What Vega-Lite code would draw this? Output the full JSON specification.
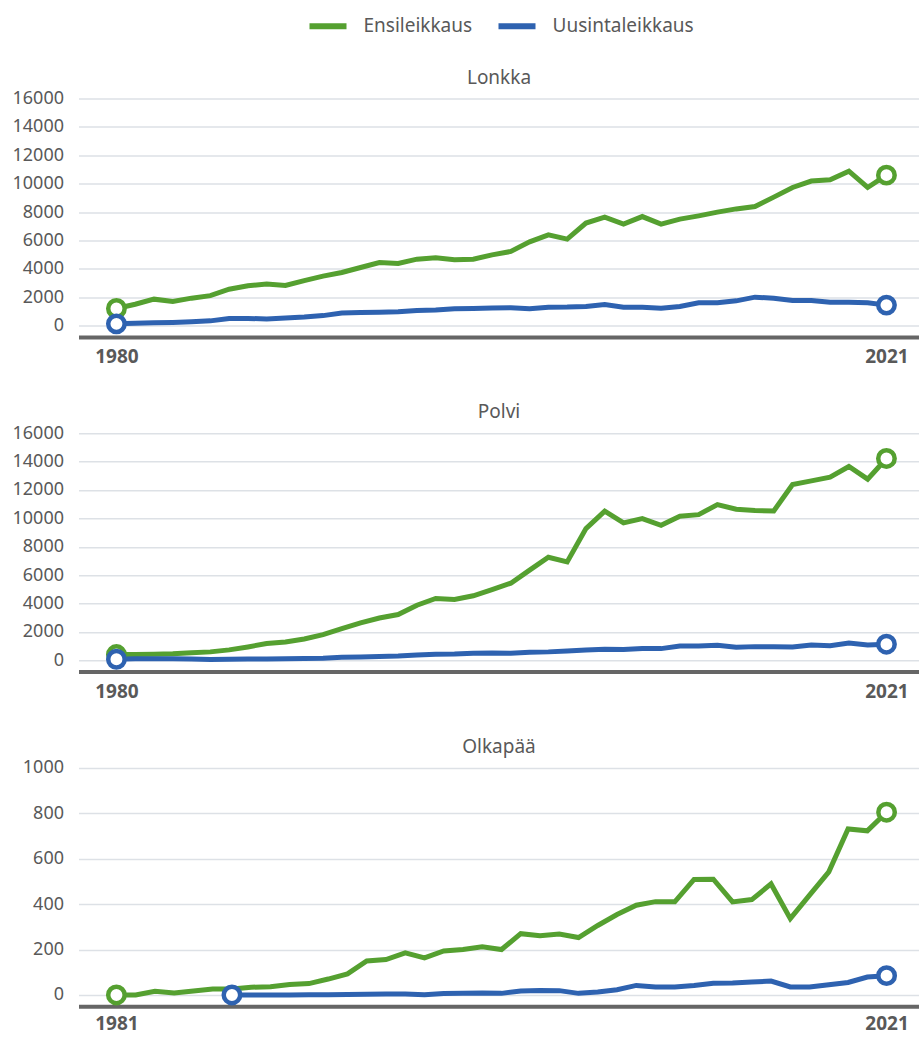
{
  "$schema": "https://vega.github.io/schema/vega-lite/v6.json",
  "padding": {"left": 11.5, "top": 4.5, "right": 0, "bottom": 3},
  "bounds": "flush",
  "spacing": 95.7,
  "datasets": {
    "rows": [
      {"panel":"Lonkka","series":"Ensileikkaus","year":1980,"value":1200},{"panel":"Lonkka","series":"Ensileikkaus","year":1981,"value":1500},{"panel":"Lonkka","series":"Ensileikkaus","year":1982,"value":1860},{"panel":"Lonkka","series":"Ensileikkaus","year":1983,"value":1690},{"panel":"Lonkka","series":"Ensileikkaus","year":1984,"value":1930},{"panel":"Lonkka","series":"Ensileikkaus","year":1985,"value":2110},{"panel":"Lonkka","series":"Ensileikkaus","year":1986,"value":2560},{"panel":"Lonkka","series":"Ensileikkaus","year":1987,"value":2800},{"panel":"Lonkka","series":"Ensileikkaus","year":1988,"value":2920},{"panel":"Lonkka","series":"Ensileikkaus","year":1989,"value":2820},{"panel":"Lonkka","series":"Ensileikkaus","year":1990,"value":3170},{"panel":"Lonkka","series":"Ensileikkaus","year":1991,"value":3480},{"panel":"Lonkka","series":"Ensileikkaus","year":1992,"value":3740},{"panel":"Lonkka","series":"Ensileikkaus","year":1993,"value":4090},{"panel":"Lonkka","series":"Ensileikkaus","year":1994,"value":4440},{"panel":"Lonkka","series":"Ensileikkaus","year":1995,"value":4370},{"panel":"Lonkka","series":"Ensileikkaus","year":1996,"value":4680},{"panel":"Lonkka","series":"Ensileikkaus","year":1997,"value":4770},{"panel":"Lonkka","series":"Ensileikkaus","year":1998,"value":4630},{"panel":"Lonkka","series":"Ensileikkaus","year":1999,"value":4680},{"panel":"Lonkka","series":"Ensileikkaus","year":2000,"value":4980},{"panel":"Lonkka","series":"Ensileikkaus","year":2001,"value":5220},{"panel":"Lonkka","series":"Ensileikkaus","year":2002,"value":5900},{"panel":"Lonkka","series":"Ensileikkaus","year":2003,"value":6390},{"panel":"Lonkka","series":"Ensileikkaus","year":2004,"value":6090},{"panel":"Lonkka","series":"Ensileikkaus","year":2005,"value":7220},{"panel":"Lonkka","series":"Ensileikkaus","year":2006,"value":7640},{"panel":"Lonkka","series":"Ensileikkaus","year":2007,"value":7150},{"panel":"Lonkka","series":"Ensileikkaus","year":2008,"value":7680},{"panel":"Lonkka","series":"Ensileikkaus","year":2009,"value":7150},{"panel":"Lonkka","series":"Ensileikkaus","year":2010,"value":7500},{"panel":"Lonkka","series":"Ensileikkaus","year":2011,"value":7730},{"panel":"Lonkka","series":"Ensileikkaus","year":2012,"value":7990},{"panel":"Lonkka","series":"Ensileikkaus","year":2013,"value":8220},{"panel":"Lonkka","series":"Ensileikkaus","year":2014,"value":8390},{"panel":"Lonkka","series":"Ensileikkaus","year":2015,"value":9050},{"panel":"Lonkka","series":"Ensileikkaus","year":2016,"value":9730},{"panel":"Lonkka","series":"Ensileikkaus","year":2017,"value":10180},{"panel":"Lonkka","series":"Ensileikkaus","year":2018,"value":10270},{"panel":"Lonkka","series":"Ensileikkaus","year":2019,"value":10880},{"panel":"Lonkka","series":"Ensileikkaus","year":2020,"value":9730},{"panel":"Lonkka","series":"Ensileikkaus","year":2021,"value":10600},
      {"panel":"Lonkka","series":"Uusintaleikkaus","year":1980,"value":120},{"panel":"Lonkka","series":"Uusintaleikkaus","year":1981,"value":170},{"panel":"Lonkka","series":"Uusintaleikkaus","year":1982,"value":190},{"panel":"Lonkka","series":"Uusintaleikkaus","year":1983,"value":220},{"panel":"Lonkka","series":"Uusintaleikkaus","year":1984,"value":270},{"panel":"Lonkka","series":"Uusintaleikkaus","year":1985,"value":330},{"panel":"Lonkka","series":"Uusintaleikkaus","year":1986,"value":500},{"panel":"Lonkka","series":"Uusintaleikkaus","year":1987,"value":500},{"panel":"Lonkka","series":"Uusintaleikkaus","year":1988,"value":470},{"panel":"Lonkka","series":"Uusintaleikkaus","year":1989,"value":530},{"panel":"Lonkka","series":"Uusintaleikkaus","year":1990,"value":600},{"panel":"Lonkka","series":"Uusintaleikkaus","year":1991,"value":700},{"panel":"Lonkka","series":"Uusintaleikkaus","year":1992,"value":880},{"panel":"Lonkka","series":"Uusintaleikkaus","year":1993,"value":920},{"panel":"Lonkka","series":"Uusintaleikkaus","year":1994,"value":940},{"panel":"Lonkka","series":"Uusintaleikkaus","year":1995,"value":980},{"panel":"Lonkka","series":"Uusintaleikkaus","year":1996,"value":1060},{"panel":"Lonkka","series":"Uusintaleikkaus","year":1997,"value":1100},{"panel":"Lonkka","series":"Uusintaleikkaus","year":1998,"value":1180},{"panel":"Lonkka","series":"Uusintaleikkaus","year":1999,"value":1200},{"panel":"Lonkka","series":"Uusintaleikkaus","year":2000,"value":1230},{"panel":"Lonkka","series":"Uusintaleikkaus","year":2001,"value":1250},{"panel":"Lonkka","series":"Uusintaleikkaus","year":2002,"value":1180},{"panel":"Lonkka","series":"Uusintaleikkaus","year":2003,"value":1290},{"panel":"Lonkka","series":"Uusintaleikkaus","year":2004,"value":1300},{"panel":"Lonkka","series":"Uusintaleikkaus","year":2005,"value":1340},{"panel":"Lonkka","series":"Uusintaleikkaus","year":2006,"value":1480},{"panel":"Lonkka","series":"Uusintaleikkaus","year":2007,"value":1290},{"panel":"Lonkka","series":"Uusintaleikkaus","year":2008,"value":1290},{"panel":"Lonkka","series":"Uusintaleikkaus","year":2009,"value":1220},{"panel":"Lonkka","series":"Uusintaleikkaus","year":2010,"value":1340},{"panel":"Lonkka","series":"Uusintaleikkaus","year":2011,"value":1600},{"panel":"Lonkka","series":"Uusintaleikkaus","year":2012,"value":1600},{"panel":"Lonkka","series":"Uusintaleikkaus","year":2013,"value":1740},{"panel":"Lonkka","series":"Uusintaleikkaus","year":2014,"value":2000},{"panel":"Lonkka","series":"Uusintaleikkaus","year":2015,"value":1930},{"panel":"Lonkka","series":"Uusintaleikkaus","year":2016,"value":1760},{"panel":"Lonkka","series":"Uusintaleikkaus","year":2017,"value":1760},{"panel":"Lonkka","series":"Uusintaleikkaus","year":2018,"value":1640},{"panel":"Lonkka","series":"Uusintaleikkaus","year":2019,"value":1640},{"panel":"Lonkka","series":"Uusintaleikkaus","year":2020,"value":1600},{"panel":"Lonkka","series":"Uusintaleikkaus","year":2021,"value":1440},
      {"panel":"Polvi","series":"Ensileikkaus","year":1980,"value":400},{"panel":"Polvi","series":"Ensileikkaus","year":1981,"value":400},{"panel":"Polvi","series":"Ensileikkaus","year":1982,"value":420},{"panel":"Polvi","series":"Ensileikkaus","year":1983,"value":450},{"panel":"Polvi","series":"Ensileikkaus","year":1984,"value":520},{"panel":"Polvi","series":"Ensileikkaus","year":1985,"value":590},{"panel":"Polvi","series":"Ensileikkaus","year":1986,"value":730},{"panel":"Polvi","series":"Ensileikkaus","year":1987,"value":940},{"panel":"Polvi","series":"Ensileikkaus","year":1988,"value":1180},{"panel":"Polvi","series":"Ensileikkaus","year":1989,"value":1290},{"panel":"Polvi","series":"Ensileikkaus","year":1990,"value":1500},{"panel":"Polvi","series":"Ensileikkaus","year":1991,"value":1810},{"panel":"Polvi","series":"Ensileikkaus","year":1992,"value":2230},{"panel":"Polvi","series":"Ensileikkaus","year":1993,"value":2630},{"panel":"Polvi","series":"Ensileikkaus","year":1994,"value":2980},{"panel":"Polvi","series":"Ensileikkaus","year":1995,"value":3220},{"panel":"Polvi","series":"Ensileikkaus","year":1996,"value":3880},{"panel":"Polvi","series":"Ensileikkaus","year":1997,"value":4350},{"panel":"Polvi","series":"Ensileikkaus","year":1998,"value":4280},{"panel":"Polvi","series":"Ensileikkaus","year":1999,"value":4540},{"panel":"Polvi","series":"Ensileikkaus","year":2000,"value":4980},{"panel":"Polvi","series":"Ensileikkaus","year":2001,"value":5430},{"panel":"Polvi","series":"Ensileikkaus","year":2002,"value":6350},{"panel":"Polvi","series":"Ensileikkaus","year":2003,"value":7260},{"panel":"Polvi","series":"Ensileikkaus","year":2004,"value":6930},{"panel":"Polvi","series":"Ensileikkaus","year":2005,"value":9280},{"panel":"Polvi","series":"Ensileikkaus","year":2006,"value":10500},{"panel":"Polvi","series":"Ensileikkaus","year":2007,"value":9680},{"panel":"Polvi","series":"Ensileikkaus","year":2008,"value":9980},{"panel":"Polvi","series":"Ensileikkaus","year":2009,"value":9510},{"panel":"Polvi","series":"Ensileikkaus","year":2010,"value":10150},{"panel":"Polvi","series":"Ensileikkaus","year":2011,"value":10260},{"panel":"Polvi","series":"Ensileikkaus","year":2012,"value":10970},{"panel":"Polvi","series":"Ensileikkaus","year":2013,"value":10640},{"panel":"Polvi","series":"Ensileikkaus","year":2014,"value":10550},{"panel":"Polvi","series":"Ensileikkaus","year":2015,"value":10520},{"panel":"Polvi","series":"Ensileikkaus","year":2016,"value":12380},{"panel":"Polvi","series":"Ensileikkaus","year":2017,"value":12640},{"panel":"Polvi","series":"Ensileikkaus","year":2018,"value":12900},{"panel":"Polvi","series":"Ensileikkaus","year":2019,"value":13650},{"panel":"Polvi","series":"Ensileikkaus","year":2020,"value":12760},{"panel":"Polvi","series":"Ensileikkaus","year":2021,"value":14220},
      {"panel":"Polvi","series":"Uusintaleikkaus","year":1980,"value":70},{"panel":"Polvi","series":"Uusintaleikkaus","year":1981,"value":100},{"panel":"Polvi","series":"Uusintaleikkaus","year":1982,"value":100},{"panel":"Polvi","series":"Uusintaleikkaus","year":1983,"value":100},{"panel":"Polvi","series":"Uusintaleikkaus","year":1984,"value":90},{"panel":"Polvi","series":"Uusintaleikkaus","year":1985,"value":60},{"panel":"Polvi","series":"Uusintaleikkaus","year":1986,"value":70},{"panel":"Polvi","series":"Uusintaleikkaus","year":1987,"value":80},{"panel":"Polvi","series":"Uusintaleikkaus","year":1988,"value":80},{"panel":"Polvi","series":"Uusintaleikkaus","year":1989,"value":100},{"panel":"Polvi","series":"Uusintaleikkaus","year":1990,"value":120},{"panel":"Polvi","series":"Uusintaleikkaus","year":1991,"value":140},{"panel":"Polvi","series":"Uusintaleikkaus","year":1992,"value":210},{"panel":"Polvi","series":"Uusintaleikkaus","year":1993,"value":235},{"panel":"Polvi","series":"Uusintaleikkaus","year":1994,"value":260},{"panel":"Polvi","series":"Uusintaleikkaus","year":1995,"value":300},{"panel":"Polvi","series":"Uusintaleikkaus","year":1996,"value":370},{"panel":"Polvi","series":"Uusintaleikkaus","year":1997,"value":420},{"panel":"Polvi","series":"Uusintaleikkaus","year":1998,"value":440},{"panel":"Polvi","series":"Uusintaleikkaus","year":1999,"value":490},{"panel":"Polvi","series":"Uusintaleikkaus","year":2000,"value":510},{"panel":"Polvi","series":"Uusintaleikkaus","year":2001,"value":490},{"panel":"Polvi","series":"Uusintaleikkaus","year":2002,"value":560},{"panel":"Polvi","series":"Uusintaleikkaus","year":2003,"value":590},{"panel":"Polvi","series":"Uusintaleikkaus","year":2004,"value":660},{"panel":"Polvi","series":"Uusintaleikkaus","year":2005,"value":730},{"panel":"Polvi","series":"Uusintaleikkaus","year":2006,"value":780},{"panel":"Polvi","series":"Uusintaleikkaus","year":2007,"value":750},{"panel":"Polvi","series":"Uusintaleikkaus","year":2008,"value":820},{"panel":"Polvi","series":"Uusintaleikkaus","year":2009,"value":820},{"panel":"Polvi","series":"Uusintaleikkaus","year":2010,"value":1010},{"panel":"Polvi","series":"Uusintaleikkaus","year":2011,"value":1010},{"panel":"Polvi","series":"Uusintaleikkaus","year":2012,"value":1060},{"panel":"Polvi","series":"Uusintaleikkaus","year":2013,"value":920},{"panel":"Polvi","series":"Uusintaleikkaus","year":2014,"value":960},{"panel":"Polvi","series":"Uusintaleikkaus","year":2015,"value":960},{"panel":"Polvi","series":"Uusintaleikkaus","year":2016,"value":940},{"panel":"Polvi","series":"Uusintaleikkaus","year":2017,"value":1080},{"panel":"Polvi","series":"Uusintaleikkaus","year":2018,"value":1030},{"panel":"Polvi","series":"Uusintaleikkaus","year":2019,"value":1220},{"panel":"Polvi","series":"Uusintaleikkaus","year":2020,"value":1080},{"panel":"Polvi","series":"Uusintaleikkaus","year":2021,"value":1130},
      {"panel":"Olkapää","series":"Ensileikkaus","year":1981,"value":0},{"panel":"Olkapää","series":"Ensileikkaus","year":1982,"value":0},{"panel":"Olkapää","series":"Ensileikkaus","year":1983,"value":16},{"panel":"Olkapää","series":"Ensileikkaus","year":1984,"value":9},{"panel":"Olkapää","series":"Ensileikkaus","year":1985,"value":17},{"panel":"Olkapää","series":"Ensileikkaus","year":1986,"value":26},{"panel":"Olkapää","series":"Ensileikkaus","year":1987,"value":26},{"panel":"Olkapää","series":"Ensileikkaus","year":1988,"value":34},{"panel":"Olkapää","series":"Ensileikkaus","year":1989,"value":36},{"panel":"Olkapää","series":"Ensileikkaus","year":1990,"value":46},{"panel":"Olkapää","series":"Ensileikkaus","year":1991,"value":50},{"panel":"Olkapää","series":"Ensileikkaus","year":1992,"value":70},{"panel":"Olkapää","series":"Ensileikkaus","year":1993,"value":93},{"panel":"Olkapää","series":"Ensileikkaus","year":1994,"value":150},{"panel":"Olkapää","series":"Ensileikkaus","year":1995,"value":156},{"panel":"Olkapää","series":"Ensileikkaus","year":1996,"value":185},{"panel":"Olkapää","series":"Ensileikkaus","year":1997,"value":163},{"panel":"Olkapää","series":"Ensileikkaus","year":1998,"value":194},{"panel":"Olkapää","series":"Ensileikkaus","year":1999,"value":200},{"panel":"Olkapää","series":"Ensileikkaus","year":2000,"value":212},{"panel":"Olkapää","series":"Ensileikkaus","year":2001,"value":200},{"panel":"Olkapää","series":"Ensileikkaus","year":2002,"value":270},{"panel":"Olkapää","series":"Ensileikkaus","year":2003,"value":261},{"panel":"Olkapää","series":"Ensileikkaus","year":2004,"value":268},{"panel":"Olkapää","series":"Ensileikkaus","year":2005,"value":253},{"panel":"Olkapää","series":"Ensileikkaus","year":2006,"value":306},{"panel":"Olkapää","series":"Ensileikkaus","year":2007,"value":354},{"panel":"Olkapää","series":"Ensileikkaus","year":2008,"value":395},{"panel":"Olkapää","series":"Ensileikkaus","year":2009,"value":411},{"panel":"Olkapää","series":"Ensileikkaus","year":2010,"value":410},{"panel":"Olkapää","series":"Ensileikkaus","year":2011,"value":509},{"panel":"Olkapää","series":"Ensileikkaus","year":2012,"value":510},{"panel":"Olkapää","series":"Ensileikkaus","year":2013,"value":410},{"panel":"Olkapää","series":"Ensileikkaus","year":2014,"value":420},{"panel":"Olkapää","series":"Ensileikkaus","year":2015,"value":489},{"panel":"Olkapää","series":"Ensileikkaus","year":2016,"value":336},{"panel":"Olkapää","series":"Ensileikkaus","year":2017,"value":440},{"panel":"Olkapää","series":"Ensileikkaus","year":2018,"value":542},{"panel":"Olkapää","series":"Ensileikkaus","year":2019,"value":731},{"panel":"Olkapää","series":"Ensileikkaus","year":2020,"value":723},{"panel":"Olkapää","series":"Ensileikkaus","year":2021,"value":805},
      {"panel":"Olkapää","series":"Uusintaleikkaus","year":1987,"value":0},{"panel":"Olkapää","series":"Uusintaleikkaus","year":1988,"value":0},{"panel":"Olkapää","series":"Uusintaleikkaus","year":1989,"value":0},{"panel":"Olkapää","series":"Uusintaleikkaus","year":1990,"value":0},{"panel":"Olkapää","series":"Uusintaleikkaus","year":1991,"value":1},{"panel":"Olkapää","series":"Uusintaleikkaus","year":1992,"value":1},{"panel":"Olkapää","series":"Uusintaleikkaus","year":1993,"value":2},{"panel":"Olkapää","series":"Uusintaleikkaus","year":1994,"value":3},{"panel":"Olkapää","series":"Uusintaleikkaus","year":1995,"value":4},{"panel":"Olkapää","series":"Uusintaleikkaus","year":1996,"value":4},{"panel":"Olkapää","series":"Uusintaleikkaus","year":1997,"value":1},{"panel":"Olkapää","series":"Uusintaleikkaus","year":1998,"value":6},{"panel":"Olkapää","series":"Uusintaleikkaus","year":1999,"value":7},{"panel":"Olkapää","series":"Uusintaleikkaus","year":2000,"value":9},{"panel":"Olkapää","series":"Uusintaleikkaus","year":2001,"value":7},{"panel":"Olkapää","series":"Uusintaleikkaus","year":2002,"value":17},{"panel":"Olkapää","series":"Uusintaleikkaus","year":2003,"value":20},{"panel":"Olkapää","series":"Uusintaleikkaus","year":2004,"value":19},{"panel":"Olkapää","series":"Uusintaleikkaus","year":2005,"value":7},{"panel":"Olkapää","series":"Uusintaleikkaus","year":2006,"value":13},{"panel":"Olkapää","series":"Uusintaleikkaus","year":2007,"value":23},{"panel":"Olkapää","series":"Uusintaleikkaus","year":2008,"value":42},{"panel":"Olkapää","series":"Uusintaleikkaus","year":2009,"value":35},{"panel":"Olkapää","series":"Uusintaleikkaus","year":2010,"value":35},{"panel":"Olkapää","series":"Uusintaleikkaus","year":2011,"value":42},{"panel":"Olkapää","series":"Uusintaleikkaus","year":2012,"value":51},{"panel":"Olkapää","series":"Uusintaleikkaus","year":2013,"value":53},{"panel":"Olkapää","series":"Uusintaleikkaus","year":2014,"value":57},{"panel":"Olkapää","series":"Uusintaleikkaus","year":2015,"value":61},{"panel":"Olkapää","series":"Uusintaleikkaus","year":2016,"value":35},{"panel":"Olkapää","series":"Uusintaleikkaus","year":2017,"value":35},{"panel":"Olkapää","series":"Uusintaleikkaus","year":2018,"value":45},{"panel":"Olkapää","series":"Uusintaleikkaus","year":2019,"value":55},{"panel":"Olkapää","series":"Uusintaleikkaus","year":2020,"value":79},{"panel":"Olkapää","series":"Uusintaleikkaus","year":2021,"value":85}
    ]
  },
  "data": {"name": "rows"},
  "vconcat": [
    {
      "title": "Lonkka",
      "width": 841,
      "height": 238.4,
      "transform": [{"filter": "datum.panel === 'Lonkka'"}],
      "encoding": {
        "x": {"field": "year", "type": "quantitative", "scale": {"domain": [1977.98, 2022.76], "nice": false, "zero": false}, "axis": {"values": [1980, 2021], "format": "d", "title": null}},
        "y": {"field": "value", "type": "quantitative", "scale": {"domain": [-800, 16000], "nice": false}, "axis": {"values": [0, 2000, 4000, 6000, 8000, 10000, 12000, 14000, 16000], "format": "d", "title": null}}
      },
      "layer": [
        {"mark": {"type": "line", "strokeWidth": 5}, "encoding": {"color": {"field": "series", "type": "nominal", "scale": {"domain": ["Ensileikkaus", "Uusintaleikkaus"], "range": ["#55a030", "#2e62b0"]}, "legend": {"title": null}}}},
        {"transform": [{"joinaggregate": [{"op": "min", "field": "year", "as": "y0"}, {"op": "max", "field": "year", "as": "y1"}], "groupby": ["series"]}, {"filter": "datum.year === datum.y0 || datum.year === datum.y1"}],
         "mark": {"type": "point", "shape": "circle", "filled": true, "fill": "white", "size": 270, "strokeWidth": 4.5, "opacity": 1},
         "encoding": {"stroke": {"field": "series", "type": "nominal", "scale": {"domain": ["Ensileikkaus", "Uusintaleikkaus"], "range": ["#55a030", "#2e62b0"]}, "legend": null}}}
      ]
    },
    {
      "title": "Polvi",
      "width": 841,
      "height": 238.4,
      "transform": [{"filter": "datum.panel === 'Polvi'"}],
      "encoding": {
        "x": {"field": "year", "type": "quantitative", "scale": {"domain": [1977.98, 2022.76], "nice": false, "zero": false}, "axis": {"values": [1980, 2021], "format": "d", "title": null}},
        "y": {"field": "value", "type": "quantitative", "scale": {"domain": [-800, 16000], "nice": false}, "axis": {"values": [0, 2000, 4000, 6000, 8000, 10000, 12000, 14000, 16000], "format": "d", "title": null}}
      },
      "layer": [
        {"mark": {"type": "line", "strokeWidth": 5}, "encoding": {"color": {"field": "series", "type": "nominal", "scale": {"domain": ["Ensileikkaus", "Uusintaleikkaus"], "range": ["#55a030", "#2e62b0"]}, "legend": null}}},
        {"transform": [{"joinaggregate": [{"op": "min", "field": "year", "as": "y0"}, {"op": "max", "field": "year", "as": "y1"}], "groupby": ["series"]}, {"filter": "datum.year === datum.y0 || datum.year === datum.y1"}],
         "mark": {"type": "point", "shape": "circle", "filled": true, "fill": "white", "size": 270, "strokeWidth": 4.5, "opacity": 1},
         "encoding": {"stroke": {"field": "series", "type": "nominal", "scale": {"domain": ["Ensileikkaus", "Uusintaleikkaus"], "range": ["#55a030", "#2e62b0"]}, "legend": null}}}
      ]
    },
    {
      "title": "Olkapää",
      "width": 841,
      "height": 238.4,
      "transform": [{"filter": "datum.panel === 'Olkapää'"}],
      "encoding": {
        "x": {"field": "year", "type": "quantitative", "scale": {"domain": [1979.03, 2022.71], "nice": false, "zero": false}, "axis": {"values": [1981, 2021], "format": "d", "title": null, "labelPadding": 8}},
        "y": {"field": "value", "type": "quantitative", "scale": {"domain": [-50, 1000], "nice": false}, "axis": {"values": [0, 200, 400, 600, 800, 1000], "format": "d", "title": null}}
      },
      "layer": [
        {"mark": {"type": "line", "strokeWidth": 5}, "encoding": {"color": {"field": "series", "type": "nominal", "scale": {"domain": ["Ensileikkaus", "Uusintaleikkaus"], "range": ["#55a030", "#2e62b0"]}, "legend": null}}},
        {"transform": [{"joinaggregate": [{"op": "min", "field": "year", "as": "y0"}, {"op": "max", "field": "year", "as": "y1"}], "groupby": ["series"]}, {"filter": "datum.year === datum.y0 || datum.year === datum.y1"}],
         "mark": {"type": "point", "shape": "circle", "filled": true, "fill": "white", "size": 270, "strokeWidth": 4.5, "opacity": 1},
         "encoding": {"stroke": {"field": "series", "type": "nominal", "scale": {"domain": ["Ensileikkaus", "Uusintaleikkaus"], "range": ["#55a030", "#2e62b0"]}, "legend": null}}}
      ]
    }
  ],
  "resolve": {"scale": {"x": "independent", "y": "independent"}},
  "config": {
    "font": "Noto Sans",
    "view": {"stroke": null},
    "axis": {"labelFont": "Noto Sans", "labelColor": "#595959", "ticks": false},
    "axisY": {"domain": false, "grid": true, "gridColor": "#dde1e6", "gridWidth": 1.5, "labelFontSize": 18, "labelPadding": 15},
    "axisX": {"grid": false, "domainColor": "#666666", "domainWidth": 4, "labelFontSize": 19, "labelFontWeight": "bold", "labelPadding": 11, "labelFlush": false},
    "title": {"font": "Noto Sans", "fontSize": 19, "fontWeight": "normal", "color": "#595959", "anchor": "middle", "offset": 2},
    "legend": {"orient": "none", "direction": "horizontal", "legendX": 228, "legendY": -94, "labelFont": "Noto Sans", "labelFontSize": 19, "labelColor": "#595959", "symbolType": "stroke", "symbolStrokeWidth": 6, "symbolSize": 1369, "labelOffset": 14, "columnPadding": 14}
  }
}
